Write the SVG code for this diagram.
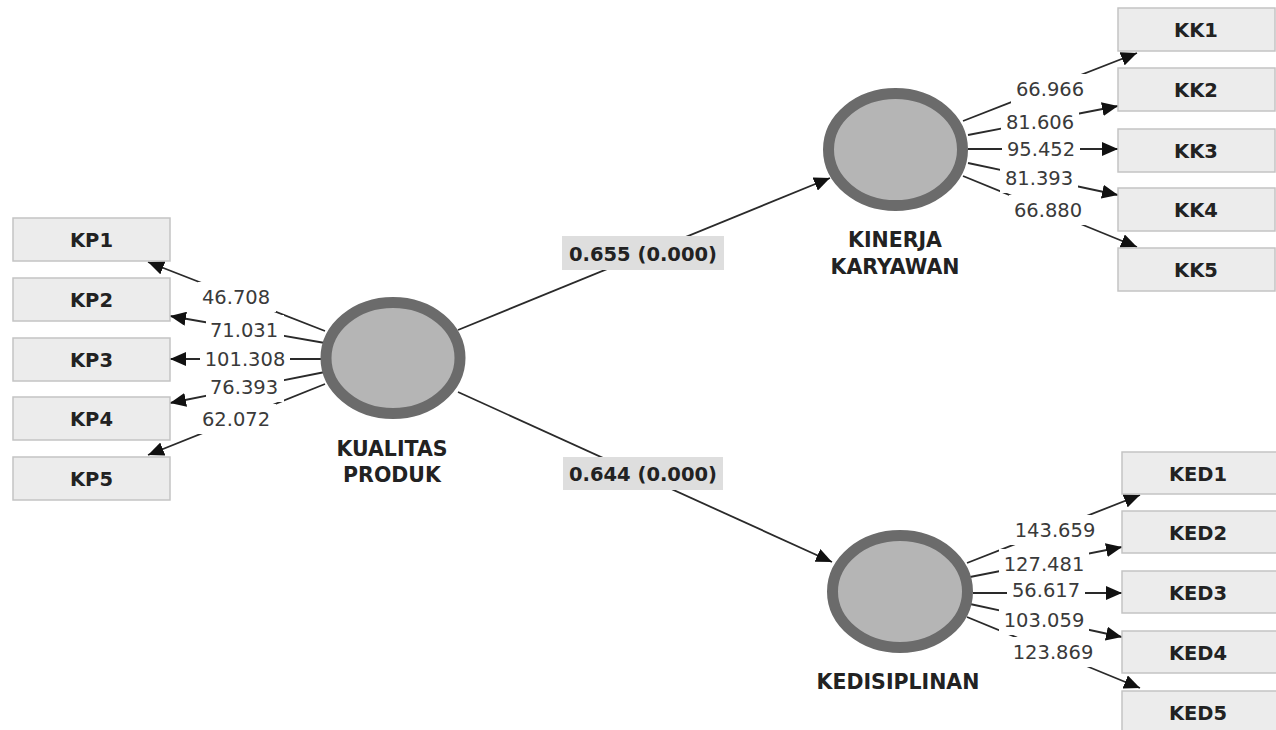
<svg xmlns="http://www.w3.org/2000/svg" width="1276" height="730" viewBox="0 0 1276 730">
  <style>
    .box { fill: #ececec; stroke: #c4c4c4; stroke-width: 1.5; }
    .boxtxt { font-family: "DejaVu Sans", "Liberation Sans", sans-serif; font-weight: bold; font-size: 19.5px; fill: #222; text-anchor: middle; }
    .lv { fill: #b5b5b5; stroke: #6b6b6b; stroke-width: 11; }
    .lvtxt { font-family: "DejaVu Sans", "Liberation Sans", sans-serif; font-weight: bold; font-size: 20.5px; fill: #222; text-anchor: middle; }
    .edge { stroke: #2a2a2a; stroke-width: 1.8; fill: none; marker-end: url(#ah); }
    .lbg { fill: #ffffff; }
    .ltxt { font-family: "DejaVu Sans", "Liberation Sans", sans-serif; font-size: 19.5px; fill: #3a3a3a; text-anchor: middle; }
    .pbg { fill: #dedede; }
    .ptxt { font-family: "DejaVu Sans", "Liberation Sans", sans-serif; font-weight: bold; font-size: 19.5px; fill: #222; text-anchor: middle; }
  </style>
  <defs>
    <marker id="ah" markerWidth="16" markerHeight="14" refX="16" refY="7" orient="auto" markerUnits="userSpaceOnUse">
      <path d="M0,0 L16,7 L0,14 z" fill="#111"/>
    </marker>
  </defs>
  <rect width="1276" height="730" fill="#ffffff"/>

  <!-- connectors: structural paths and outer loadings -->
  <g id="connectors">
    <line class="edge" x1="458" y1="330" x2="830" y2="178"/>
    <line class="edge" x1="458" y1="392" x2="832" y2="562"/>

    <line class="edge" x1="325" y1="331" x2="148" y2="262"/>
    <line class="edge" x1="325" y1="343" x2="170" y2="316"/>
    <line class="edge" x1="321" y1="359" x2="170" y2="359"/>
    <line class="edge" x1="325" y1="372" x2="170" y2="403"/>
    <line class="edge" x1="325" y1="384" x2="148" y2="455"/>

    <line class="edge" x1="963" y1="121" x2="1137" y2="53"/>
    <line class="edge" x1="968" y1="135" x2="1118" y2="106"/>
    <line class="edge" x1="968" y1="149" x2="1118" y2="149"/>
    <line class="edge" x1="968" y1="163" x2="1118" y2="195"/>
    <line class="edge" x1="963" y1="176" x2="1137" y2="247"/>

    <line class="edge" x1="967" y1="563" x2="1140" y2="495"/>
    <line class="edge" x1="970" y1="577" x2="1122" y2="547"/>
    <line class="edge" x1="973" y1="593" x2="1122" y2="593"/>
    <line class="edge" x1="970" y1="604" x2="1122" y2="637"/>
    <line class="edge" x1="967" y1="617" x2="1140" y2="688"/>

    <!-- loading values -->
    <rect class="lbg" x="198" y="282" width="78" height="30"/>
    <text class="ltxt" x="236" y="304">46.708</text>
    <rect class="lbg" x="206" y="315" width="78" height="30"/>
    <text class="ltxt" x="244" y="337">71.031</text>
    <rect class="lbg" x="200" y="344" width="90" height="30"/>
    <text class="ltxt" x="245" y="366">101.308</text>
    <rect class="lbg" x="206" y="372" width="78" height="30"/>
    <text class="ltxt" x="244" y="394">76.393</text>
    <rect class="lbg" x="198" y="404" width="78" height="30"/>
    <text class="ltxt" x="236" y="426">62.072</text>

    <rect class="lbg" x="1011" y="74" width="78" height="30"/>
    <text class="ltxt" x="1050" y="96">66.966</text>
    <rect class="lbg" x="1001" y="107" width="78" height="30"/>
    <text class="ltxt" x="1040" y="129">81.606</text>
    <rect class="lbg" x="1002" y="135" width="78" height="28"/>
    <text class="ltxt" x="1041" y="156">95.452</text>
    <rect class="lbg" x="1000" y="163" width="78" height="30"/>
    <text class="ltxt" x="1039" y="185">81.393</text>
    <rect class="lbg" x="1009" y="195" width="78" height="30"/>
    <text class="ltxt" x="1048" y="217">66.880</text>

    <rect class="lbg" x="1010" y="515" width="90" height="30"/>
    <text class="ltxt" x="1055" y="537">143.659</text>
    <rect class="lbg" x="999" y="549" width="90" height="30"/>
    <text class="ltxt" x="1044" y="571">127.481</text>
    <rect class="lbg" x="1007" y="577" width="78" height="28"/>
    <text class="ltxt" x="1046" y="597">56.617</text>
    <rect class="lbg" x="999" y="605" width="90" height="30"/>
    <text class="ltxt" x="1044" y="627">103.059</text>
    <rect class="lbg" x="1008" y="637" width="90" height="30"/>
    <text class="ltxt" x="1053" y="659">123.869</text>

    <!-- path coefficients -->
    <rect class="pbg" x="562" y="236" width="162" height="34"/>
    <text class="ptxt" x="643" y="261">0.655 (0.000)</text>
    <rect class="pbg" x="563" y="457" width="160" height="33"/>
    <text class="ptxt" x="643" y="481">0.644 (0.000)</text>
  </g>

  <!-- latent variables -->
  <g id="kualitas-produk">
    <ellipse class="lv" cx="393" cy="358" rx="67" ry="55.5"/>
    <text class="lvtxt" x="392" y="456">KUALITAS</text>
    <text class="lvtxt" x="392" y="482">PRODUK</text>
  </g>
  <g id="kinerja-karyawan">
    <ellipse class="lv" cx="895.5" cy="149.5" rx="67" ry="56"/>
    <text class="lvtxt" x="895" y="247">KINERJA</text>
    <text class="lvtxt" x="895" y="274">KARYAWAN</text>
  </g>
  <g id="kedisiplinan">
    <ellipse class="lv" cx="900" cy="591.5" rx="67.5" ry="56"/>
    <text class="lvtxt" x="898" y="689">KEDISIPLINAN</text>
  </g>

  <!-- indicators -->
  <g id="KP1"><rect class="box" x="13" y="218" width="157" height="43"/><text class="boxtxt" x="91.5" y="247">KP1</text></g>
  <g id="KP2"><rect class="box" x="13" y="278" width="157" height="43"/><text class="boxtxt" x="91.5" y="307">KP2</text></g>
  <g id="KP3"><rect class="box" x="13" y="338" width="157" height="43"/><text class="boxtxt" x="91.5" y="367">KP3</text></g>
  <g id="KP4"><rect class="box" x="13" y="397" width="157" height="43"/><text class="boxtxt" x="91.5" y="426">KP4</text></g>
  <g id="KP5"><rect class="box" x="13" y="457" width="157" height="43"/><text class="boxtxt" x="91.5" y="486">KP5</text></g>

  <g id="KK1"><rect class="box" x="1118" y="8" width="157" height="43"/><text class="boxtxt" x="1196" y="37">KK1</text></g>
  <g id="KK2"><rect class="box" x="1118" y="68" width="157" height="43"/><text class="boxtxt" x="1196" y="97">KK2</text></g>
  <g id="KK3"><rect class="box" x="1118" y="129" width="157" height="43"/><text class="boxtxt" x="1196" y="158">KK3</text></g>
  <g id="KK4"><rect class="box" x="1118" y="188" width="157" height="43"/><text class="boxtxt" x="1196" y="217">KK4</text></g>
  <g id="KK5"><rect class="box" x="1118" y="248" width="157" height="43"/><text class="boxtxt" x="1196" y="277">KK5</text></g>

  <g id="KED1"><rect class="box" x="1122" y="452" width="160" height="42"/><text class="boxtxt" x="1198" y="481">KED1</text></g>
  <g id="KED2"><rect class="box" x="1122" y="511" width="160" height="42"/><text class="boxtxt" x="1198" y="540">KED2</text></g>
  <g id="KED3"><rect class="box" x="1122" y="571" width="160" height="42"/><text class="boxtxt" x="1198" y="600">KED3</text></g>
  <g id="KED4"><rect class="box" x="1122" y="631" width="160" height="42"/><text class="boxtxt" x="1198" y="660">KED4</text></g>
  <g id="KED5"><rect class="box" x="1122" y="691" width="160" height="42"/><text class="boxtxt" x="1198" y="720">KED5</text></g>
</svg>
